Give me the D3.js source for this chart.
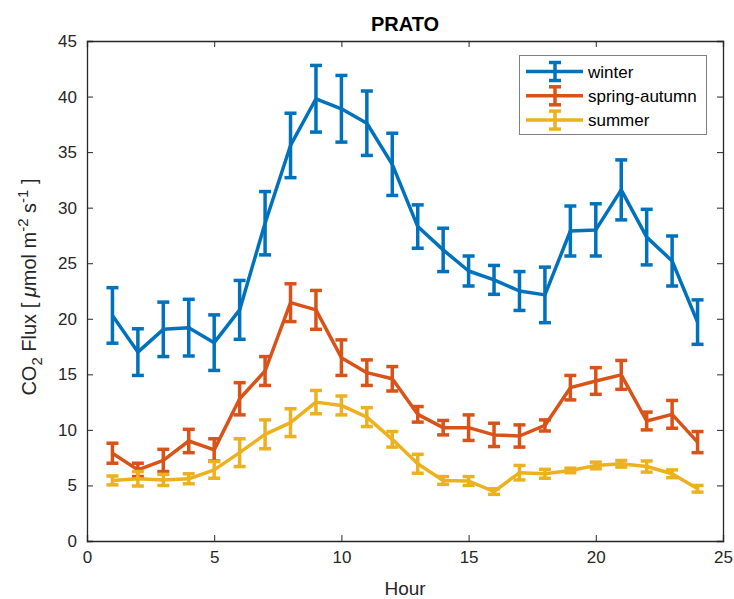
<!DOCTYPE html>
<html><head><meta charset="utf-8">
<script src="https://cdn.jsdelivr.net/npm/d3@7"></script>
<style>body{margin:0;background:#fff}svg{display:block}text{font-family:"Liberation Sans",Arial,Helvetica,sans-serif}</style>
</head><body>
<script>
const hours = d3.range(1, 25);
const seriesNames = ["winter", "spring-autumn", "summer"];
const colors = ["#0072BD", "#D95319", "#EDB120"];
const winter = [20.3,17.0,19.05,19.2,17.85,20.8,28.6,35.6,39.8,38.9,37.6,33.9,28.3,26.2,24.3,23.5,22.5,22.15,27.9,28.0,31.6,27.35,25.2,19.7];
const winterErr = [2.5,2.1,2.45,2.55,2.5,2.65,2.85,2.9,3.0,3.0,2.9,2.8,1.95,1.95,1.35,1.3,1.75,2.5,2.25,2.35,2.7,2.5,2.25,2.0];
const spring = [7.9,6.4,7.25,9.0,8.2,12.8,15.3,21.45,20.8,16.5,15.15,14.6,11.4,10.2,10.2,9.55,9.45,10.4,13.8,14.4,14.95,10.8,11.4,8.9];
const springErr = [0.9,0.6,1.0,1.05,1.0,1.45,1.3,1.7,1.75,1.6,1.15,1.1,0.7,0.65,1.15,1.05,1.0,0.5,1.1,1.2,1.3,0.8,1.25,0.95];
const summer = [5.45,5.6,5.5,5.6,6.4,7.95,9.6,10.65,12.5,12.2,11.15,9.15,6.95,5.45,5.4,4.45,6.15,6.05,6.35,6.8,6.95,6.7,6.05,4.7];
const summerErr = [0.4,0.65,0.5,0.45,0.75,1.25,1.3,1.25,1.05,0.85,0.85,0.7,0.85,0.35,0.4,0.25,0.65,0.4,0.2,0.3,0.3,0.5,0.35,0.3];
const xTicks = [0,5,10,15,20,25];
const yTicks = [0,5,10,15,20,25,30,35,40,45];

const W = 734, H = 599;
const m = {l:87, r:11, t:41, b:58};
const FONT = "'Liberation Sans', Arial, Helvetica, sans-serif";
const svg = d3.select("body").append("svg").attr("width", W).attr("height", H);
const x = d3.scaleLinear().domain([0,25]).range([m.l, W - m.r]);
const y = d3.scaleLinear().domain([0,45]).range([H - m.b, m.t]);

const axCol = "#262626";
const gx = svg.append("g").attr("transform", `translate(0,${H - m.b})`)
  .call(d3.axisBottom(x).tickValues(xTicks).tickSize(-6).tickPadding(10).tickFormat(d3.format("d")));
const gxt = svg.append("g").attr("transform", `translate(0,${m.t})`)
  .call(d3.axisTop(x).tickValues(xTicks).tickSize(-6).tickFormat(""));
const gy = svg.append("g").attr("transform", `translate(${m.l},0)`)
  .call(d3.axisLeft(y).tickValues(yTicks).tickSize(-6).tickPadding(10).tickFormat(d3.format("d")));
const gyr = svg.append("g").attr("transform", `translate(${W - m.r},0)`)
  .call(d3.axisRight(y).tickValues(yTicks).tickSize(-6).tickFormat(""));
[gx, gxt, gy, gyr].forEach(g => {
  g.select(".domain").attr("stroke", axCol).attr("stroke-width", 1.3);
  g.selectAll(".tick line").attr("stroke", axCol).attr("stroke-width", 1);
  g.selectAll(".tick text").attr("fill", "#262626").attr("font-size", 17).attr("font-family", FONT);
});

const data = [
  {name: seriesNames[0], v: winter, e: winterErr, c: colors[0]},
  {name: seriesNames[1], v: spring, e: springErr, c: colors[1]},
  {name: seriesNames[2], v: summer, e: summerErr, c: colors[2]}
];
const capW = 6;
const line = d3.line().x((d,i) => x(hours[i])).y(d => y(d));
data.forEach(s => {
  const g = svg.append("g");
  hours.forEach((h,i) => {
    const cx = x(h), lo = y(s.v[i] - s.e[i]), hi = y(s.v[i] + s.e[i]);
    g.append("line").attr("x1",cx).attr("x2",cx).attr("y1",lo).attr("y2",hi).attr("stroke",s.c).attr("stroke-width",3.5);
    g.append("line").attr("x1",cx-capW).attr("x2",cx+capW).attr("y1",lo).attr("y2",lo).attr("stroke",s.c).attr("stroke-width",3.5);
    g.append("line").attr("x1",cx-capW).attr("x2",cx+capW).attr("y1",hi).attr("y2",hi).attr("stroke",s.c).attr("stroke-width",3.5);
  });
  g.append("path").attr("d", line(s.v)).attr("fill","none").attr("stroke",s.c).attr("stroke-width",3.5).attr("stroke-linejoin","round");
});

// legend
const lg = svg.append("g");
lg.append("rect").attr("x",519.5).attr("y",55.5).attr("width",187).attr("height",79)
  .attr("fill","#fff").attr("stroke","#7f7f7f").attr("stroke-width",1);
data.forEach((s,i) => {
  const ly = 71.5 + i*24.3;
  lg.append("line").attr("x1",526).attr("x2",583).attr("y1",ly).attr("y2",ly).attr("stroke",s.c).attr("stroke-width",3.5);
  lg.append("line").attr("x1",555).attr("x2",555).attr("y1",ly-9).attr("y2",ly+9).attr("stroke",s.c).attr("stroke-width",3.5);
  lg.append("line").attr("x1",549).attr("x2",561).attr("y1",ly-9).attr("y2",ly-9).attr("stroke",s.c).attr("stroke-width",3.5);
  lg.append("line").attr("x1",549).attr("x2",561).attr("y1",ly+9).attr("y2",ly+9).attr("stroke",s.c).attr("stroke-width",3.5);
  lg.append("text").attr("x",588).attr("y",ly+6).attr("font-size",17).attr("fill","#000").text(s.name);
});

// title
svg.append("text").attr("x",(m.l + W - m.r)/2).attr("y",31).attr("text-anchor","middle")
  .attr("font-size",20).attr("font-weight","bold").attr("fill","#000").text("PRATO");
// x label
svg.append("text").attr("x",(m.l + W - m.r)/2).attr("y",595).attr("text-anchor","middle")
  .attr("font-size",19).attr("fill","#262626").text("Hour");
// y label
const yl = svg.append("text").attr("transform",`translate(36,${(m.t + H - m.b)/2 - 4}) rotate(-90)`)
  .attr("text-anchor","middle").attr("font-size",20).attr("fill","#262626");
yl.append("tspan").text("CO");
yl.append("tspan").attr("font-size",15).attr("dy",6).text("2");
yl.append("tspan").attr("dy",-6).text(" Flux [ ");
yl.append("tspan").attr("font-style","italic").text("μ");
yl.append("tspan").text("mol m");
yl.append("tspan").attr("font-size",15).attr("dy",-8).text("-2");
yl.append("tspan").attr("dy",8).text(" s");
yl.append("tspan").attr("font-size",15).attr("dy",-8).text("-1");
yl.append("tspan").attr("dy",8).text(" ]");
</script>
</body></html>
